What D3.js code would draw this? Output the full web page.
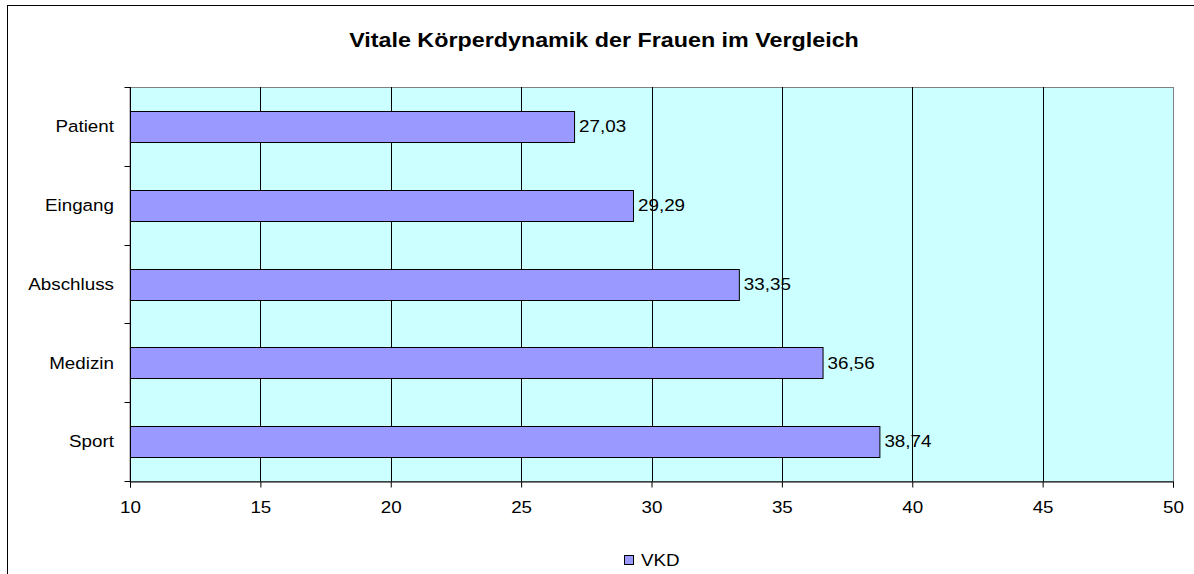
<!DOCTYPE html>
<html><head><meta charset="utf-8">
<script src="https://cdn.jsdelivr.net/npm/d3@7"></script>
<style>body{margin:0;background:#fff}svg{display:block}text{font-family:"Liberation Sans",Arial,sans-serif;fill:#000}</style>
</head><body><svg id="c" width="1194" height="574"></svg>
<script>
const categories = ["Patient","Eingang","Abschluss","Medizin","Sport"];
const values = [27.03, 29.29, 33.35, 36.56, 38.74];
const xTicks = [10,15,20,25,30,35,40,45,50];
const labels = ["27,03","29,29","33,35","36,56","38,74"];
const seriesName = "VKD";
const title = "Vitale Körperdynamik der Frauen im Vergleich";

const FS = 16.5, SX = 1.14;
const svg = d3.select("#c");
const m = {left:130, right:1173, top:87, bottom:481};
svg.append("rect").attr("x",7.5).attr("y",5.5).attr("width",1300).attr("height",700)
  .attr("fill","#fff").attr("stroke","#000").attr("stroke-width",1);

const x = d3.scaleLinear().domain([10,50]).range([m.left,m.right]);
const yb = d3.scaleBand().domain(categories).range([m.top,m.bottom]);

svg.append("rect").attr("x",m.left).attr("y",m.top+0.5).attr("width",m.right-m.left+0.5).attr("height",m.bottom-m.top)
  .attr("fill","#CCFFFF").attr("stroke","#808080").attr("stroke-width",1);

// gridlines
svg.append("g").selectAll("line").data(xTicks.slice(1,-1)).join("line")
  .attr("x1",d=>Math.round(x(d))+0.5).attr("x2",d=>Math.round(x(d))+0.5)
  .attr("y1",m.top).attr("y2",m.bottom).attr("stroke","#000").attr("stroke-width",1);

// bars
svg.append("g").selectAll("rect").data(values).join("rect")
  .attr("x",m.left+0.5).attr("y",(d,i)=>Math.round(yb(categories[i])+yb.bandwidth()/2-15.5)+0.5)
  .attr("width",d=>x(d)-m.left).attr("height",31)
  .attr("fill","#9999FF").attr("stroke","#000").attr("stroke-width",1);

// data labels
svg.append("g").selectAll("g").data(values).join("g")
  .attr("transform",(d,i)=>`translate(${x(d)+5},${yb(categories[i])+yb.bandwidth()/2}) scale(${SX},1)`)
  .append("text").attr("dy","0.35em").attr("font-size",FS).text((d,i)=>labels[i]);

// x axis
const xAxis = d3.axisBottom(x).tickValues(xTicks).tickSize(6).tickPadding(14).tickFormat(d3.format("d"));
const gx = svg.append("g").attr("transform",`translate(0,${m.bottom+0.5})`).call(xAxis);
gx.select(".domain").attr("stroke","#000");
gx.selectAll(".tick line").attr("stroke","#000");
gx.selectAll("text").attr("font-size",FS).attr("font-family","Liberation Sans, Arial, sans-serif").attr("fill","#000")
  .attr("transform",`scale(${SX},1)`);

// y axis
const gy = svg.append("g").attr("transform",`translate(${m.left+0.5},0)`);
gy.append("line").attr("x1",0).attr("x2",0).attr("y1",m.top).attr("y2",m.bottom+6).attr("stroke","#000");
const bounds = categories.map(c=>yb(c)).concat([m.bottom]);
gy.selectAll("line.t").data(bounds).join("line").attr("class","t")
  .attr("x1",-6).attr("x2",0).attr("y1",d=>Math.round(d)+0.5).attr("y2",d=>Math.round(d)+0.5).attr("stroke","#000");
gy.selectAll("g.l").data(categories).join("g").attr("class","l")
  .attr("transform",d=>`translate(-16.5,${yb(d)+yb.bandwidth()/2}) scale(${SX},1)`)
  .append("text").attr("dy","0.35em").attr("text-anchor","end").attr("font-size",FS).text(d=>d);

// title
svg.append("g").attr("transform",`translate(604,40) scale(1.11,1)`)
  .append("text").attr("dy","0.35em").attr("text-anchor","middle")
  .attr("font-size",21).attr("font-weight","bold").text(title);

// legend
svg.append("rect").attr("x",624.5).attr("y",555.5).attr("width",9).attr("height",9)
  .attr("fill","#9999FF").attr("stroke","#000");
svg.append("g").attr("transform",`translate(641,560) scale(${SX},1)`)
  .append("text").attr("dy","0.35em").attr("font-size",FS).text(seriesName);
</script></body></html>
